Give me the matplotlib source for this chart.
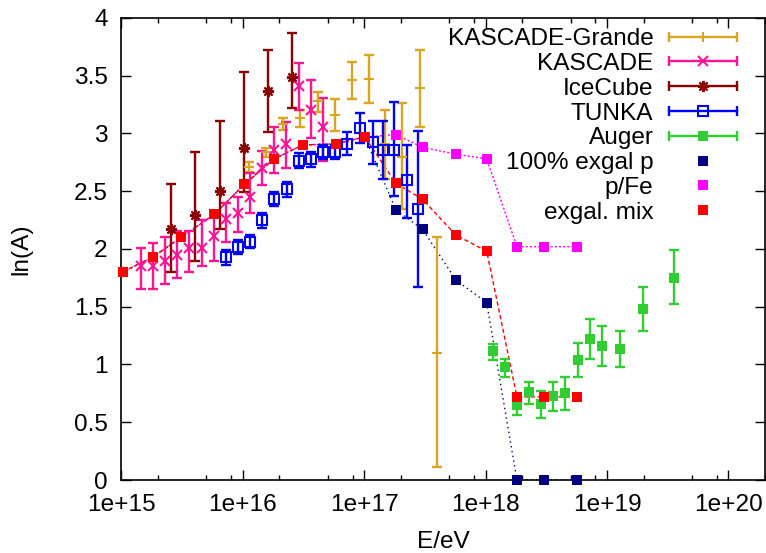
import numpy as np
import matplotlib
matplotlib.use("Agg")
import matplotlib.pyplot as plt
from matplotlib.lines import Line2D
from matplotlib.legend_handler import HandlerLine2D

plt.rcParams["font.family"] = ["Liberation Sans", "DejaVu Sans"]
plt.rcParams["font.size"] = 17.6

# KASCADE-Grande
kg_E = [1.13e16, 1.56e16, 2.14e16, 2.98e16, 4.15e16, 5.73e16, 7.87e16, 1.09e17, 1.48e17, 2.05e17, 2.88e17, 3.95e17]
kg_lnA = [2.71, 2.84, 3.08, 3.13, 3.28, 3.16, 3.46, 3.47, 2.91, 2.80, 3.39, 1.10]
kg_lo = [2.67, 2.80, 3.03, 3.06, 3.19, 3.02, 3.30, 3.26, 2.61, 2.35, 3.06, 0.11]
kg_hi = [2.75, 2.87, 3.13, 3.20, 3.36, 3.30, 3.62, 3.68, 3.20, 3.26, 3.72, 2.10]

# KASCADE
k_E = [1.45e15, 1.81e15, 2.29e15, 2.89e15, 3.61e15, 4.57e15, 5.78e15, 7.21e15, 9.06e15, 1.15e16,
       1.44e16, 1.81e16, 2.28e16, 2.89e16, 3.61e16, 4.57e16]
k_lnA = [1.85, 1.85, 1.90, 1.95, 2.01, 2.01, 2.11, 2.26, 2.31, 2.45, 2.70, 2.86, 2.91, 3.41, 3.20, 3.06]
k_lo = [1.65, 1.65, 1.70, 1.75, 1.80, 1.85, 1.90, 2.06, 2.15, 2.31, 2.55, 2.66, 2.70, 3.20, 2.96, 2.76]
k_hi = [2.01, 2.05, 2.10, 2.16, 2.16, 2.25, 2.31, 2.40, 2.45, 2.66, 2.85, 3.06, 3.10, 3.61, 3.46, 3.31]

# IceCube
ic_E = [2.56e15, 4.07e15, 6.43e15, 1.02e16, 1.61e16, 2.56e16]
ic_lnA = [2.17, 2.29, 2.50, 2.87, 3.37, 3.49]
ic_lo = [1.80, 1.90, 2.17, 2.49, 3.01, 3.22]
ic_hi = [2.56, 2.84, 3.11, 3.53, 3.72, 3.87]

# TUNKA
t_E = [7.26e15, 9.06e15, 1.15e16, 1.44e16, 1.81e16, 2.29e16, 2.89e16, 3.61e16, 4.57e16, 5.70e16,
       7.26e16, 9.18e16, 1.17e17, 1.43e17, 1.76e17, 2.24e17, 2.78e17]
t_lnA = [1.93, 2.02, 2.06, 2.25, 2.43, 2.52, 2.76, 2.78, 2.84, 2.84, 2.91, 3.05, 2.93, 2.86, 2.86, 2.60, 2.35]
t_lo = [1.86, 1.96, 2.01, 2.18, 2.37, 2.45, 2.70, 2.71, 2.78, 2.78, 2.81, 2.92, 2.74, 2.61, 2.46, 2.27, 1.67]
t_hi = [1.99, 2.08, 2.12, 2.31, 2.49, 2.58, 2.83, 2.84, 2.90, 2.90, 3.01, 3.18, 3.11, 3.11, 3.27, 2.90, 3.02]

# Auger
a_E = [1.15e18, 1.44e18, 1.81e18, 2.28e18, 2.88e18, 3.59e18, 4.52e18, 5.71e18, 7.21e18, 9.01e18,
       1.27e19, 1.96e19, 3.59e19]
a_lnA = [1.12, 0.98, 0.65, 0.76, 0.66, 0.73, 0.75, 1.04, 1.22, 1.16, 1.13, 1.48, 1.75]
a_lo = [1.04, 0.89, 0.56, 0.66, 0.54, 0.60, 0.61, 0.89, 1.05, 0.99, 0.98, 1.29, 1.52]
a_hi = [1.18, 1.05, 0.75, 0.85, 0.77, 0.85, 0.89, 1.19, 1.39, 1.33, 1.29, 1.67, 1.99]

# models
m_E = [1.02e15, 1.81e15, 3.09e15, 5.82e15, 1.03e16, 1.81e16, 3.10e16, 5.81e16, 1.01e17, 1.82e17,
       3.02e17, 5.70e17, 1.02e18, 1.81e18, 3.03e18, 5.70e18]
m_p = [1.80, 1.93, 2.10, 2.30, 2.56, 2.78, 2.90, 2.91, 2.97, 2.34, 2.17, 1.73, 1.535, 0.0, 0.0, 0.0]
m_pfe = [1.80, 1.93, 2.10, 2.30, 2.56, 2.78, 2.90, 2.91, 2.97, 2.99, 2.88, 2.82, 2.78, 2.02, 2.02, 2.02]
m_mix = [1.80, 1.93, 2.10, 2.30, 2.56, 2.78, 2.90, 2.91, 2.97, 2.57, 2.43, 2.12, 1.98, 0.72, 0.72, 0.72]

xticks = [1e15, 1e16, 1e17, 1e18, 1e19, 1e20]
xtick_labels = ["1e+15", "1e+16", "1e+17", "1e+18", "1e+19", "1e+20"]
yticks = [0, 0.5, 1, 1.5, 2, 2.5, 3, 3.5, 4]
ytick_labels = ["0", "0.5", "1", "1.5", "2", "2.5", "3", "3.5", "4"]

fig = plt.figure(figsize=(7.66, 5.53), dpi=100)
ax = fig.add_axes([0.1586, 0.132, 0.8401, 0.8355])

# model lines underneath
ax.plot(m_E, m_p, color="#000080", lw=1.0, ls=(0, (1, 2.5)), zorder=1)
ax.plot(m_E, m_pfe, color="#ff00ff", lw=1.0, ls=(0, (1.5, 1.5)), zorder=1)
ax.plot(m_E, m_mix, color="#ff0000", lw=1.0, ls=(0, (3, 2)), zorder=1)

handles = []
hmap = {}
datasets = [
    ("KASCADE-Grande", kg_E, kg_lnA, kg_lo, kg_hi, "#daa520", "+", dict(ms=7, mew=1.5)),
    ("KASCADE", k_E, k_lnA, k_lo, k_hi, "#ff1493", "x", dict(ms=7, mew=1.5)),
    ("IceCube", ic_E, ic_lnA, ic_lo, ic_hi, "#8b0000", (8, 2, 0), dict(ms=8, mew=1.5)),
    ("TUNKA", t_E, t_lnA, t_lo, t_hi, "#0000ff", "s", dict(ms=6.5, mew=1.5, mfc="none")),
    ("Auger", a_E, a_lnA, a_lo, a_hi, "#32cd32", "s", dict(ms=6.5, mew=0)),
]
for lab, E, v, lo, hi, c, mk, kw in datasets:
    v = np.array(v)
    err = [v - np.array(lo), np.array(hi) - v]
    ax.errorbar(E, v, yerr=err, fmt="none", ecolor=c, elinewidth=1.7, capsize=3.5, capthick=1.7, zorder=2)
    ax.plot(E, v, ls="none", marker=mk, color=c, zorder=2.1, **kw)
    cap = Line2D([], [], color=c, lw=1.7, marker="|", ms=7, mew=1.7)
    dot = Line2D([], [], ls="none", marker=mk, color=c, **kw)
    hmap[cap] = HandlerLine2D(numpoints=2)
    hmap[dot] = HandlerLine2D(numpoints=1)
    handles.append(((cap, dot), lab))

for lab, vals, c in [("100% exgal p", m_p, "#000080"), ("p/Fe", m_pfe, "#ff00ff"), ("exgal. mix", m_mix, "#ff0000")]:
    pts, = ax.plot(m_E, vals, ls="none", marker="s", ms=7, mew=0, color=c, zorder=3, clip_on=False)
    handles.append((pts, lab))

ax.set_xscale("log")
ax.set_xlim(1e15, 2e20)
ax.set_ylim(0, 4)
ax.set_xticks(xticks)
ax.set_xticklabels(xtick_labels)
minors = [m * 10.0 ** d for d in range(15, 21) for m in (2, 5, 8)]
ax.set_xticks([t for t in minors if t <= 2e20], minor=True)
ax.set_yticks(yticks)
ax.set_yticklabels(ytick_labels)
ax.tick_params(which="both", direction="in", top=True, right=True, width=1.0)
ax.tick_params(which="major", length=7)
ax.tick_params(which="minor", length=3.5)
ax.tick_params(axis="x", pad=10)
ax.tick_params(axis="y", pad=10)
for s in ax.spines.values():
    s.set_linewidth(1.2)

ax.set_xlabel("E/eV", labelpad=11)
ax.set_ylabel("ln(A)", labelpad=30)

leg = ax.legend([h for h, _ in handles], [l for _, l in handles], handler_map=hmap,
                loc="upper right", bbox_to_anchor=(0.968, 0.978), frameon=False,
                markerfirst=False, handlelength=3.4, handletextpad=0.32,
                labelspacing=0.11, borderpad=0, borderaxespad=0)

fig.savefig("out.png", dpi=100)
